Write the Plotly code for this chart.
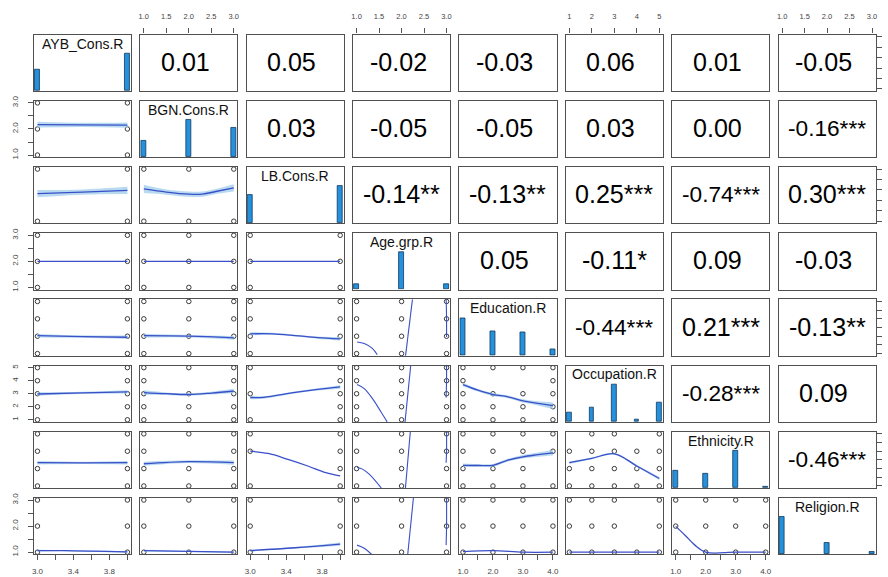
import plotly.graph_objects as go

# ---------------- data ----------------
var_names = ["AYB_Cons.R", "BGN.Cons.R", "LB.Cons.R", "Age.grp.R",
             "Education.R", "Occupation.R", "Ethnicity.R", "Religion.R"]
var_levels = [[3, 4], [1, 2, 3], [3, 4], [1, 2, 3],
              [1, 2, 3, 4], [1, 2, 3, 4, 5], [1, 2, 3, 4], [1, 2, 3]]
# histogram bar heights relative to the tallest bar of each variable
hist_rel = [[0.57, 1.0], [0.43, 1.0, 0.78], [0.76, 1.0], [0.14, 1.0, 0.14],
            [1.0, 0.65, 0.61, 0.18], [0.24, 0.37, 1.0, 0.06, 0.52],
            [0.45, 0.38, 1.0, 0.03], [1.0, 0.29, 0.05]]

# upper triangle correlations (row i, columns i+1..7)
r_upper = [[0.01, 0.05, -0.02, -0.03, 0.06, 0.01, -0.05],
           [0.03, -0.05, -0.05, 0.03, 0.00, -0.16],
           [-0.14, -0.13, 0.25, -0.74, 0.30],
           [0.05, -0.11, 0.09, -0.03],
           [-0.44, 0.21, -0.13],
           [-0.28, 0.09],
           [-0.46]]
stars_upper = [["", "", "", "", "", "", ""],
               ["", "", "", "", "", "***"],
               ["**", "**", "***", "***", "***"],
               ["", "*", "", ""],
               ["***", "***", "**"],
               ["***", ""],
               ["***"]]

# tick values / labels per variable
tick_vals = [[3.0, 3.2, 3.4, 3.6, 3.8, 4.0], [1.0, 1.5, 2.0, 2.5, 3.0],
             [3.0, 3.2, 3.4, 3.6, 3.8, 4.0], [1.0, 1.5, 2.0, 2.5, 3.0],
             [1.0, 1.5, 2.0, 2.5, 3.0, 3.5, 4.0], [1, 2, 3, 4, 5],
             [1.0, 1.5, 2.0, 2.5, 3.0, 3.5, 4.0], [1.0, 1.5, 2.0, 2.5, 3.0]]
top_labels = {1: ["1.0", "1.5", "2.0", "2.5", "3.0"], 3: ["1.0", "1.5", "2.0", "2.5", "3.0"],
              5: ["1", "2", "3", "4", "5"], 7: ["1.0", "1.5", "2.0", "2.5", "3.0"]}
bottom_labels = {0: ["3.0", "", "3.4", "", "3.8", ""], 2: ["3.0", "", "3.4", "", "3.8", ""],
                 4: ["1.0", "", "2.0", "", "3.0", "", "4.0"], 6: ["1.0", "", "2.0", "", "3.0", "", "4.0"]}
left_labels = {1: ["1.0", "", "2.0", "", "3.0"], 3: ["1.0", "", "2.0", "", "3.0"],
               5: ["1", "2", "3", "4", "5"], 7: ["1.0", "", "2.0", "", "3.0"]}

# value combinations that do not occur in lower panels: (row, col) -> [(x, y)]
absent_points = {(5, 1): [(2, 4)], (5, 2): [(3, 4), (3, 2)], (5, 4): [(2, 4), (3, 4)],
                 (6, 1): [(2, 3)], (6, 2): [(3, 2)], (6, 4): [(4, 2)],
                 (6, 5): [(1, 4), (4, 4)], (7, 5): [(4, 3), (4, 2)]}

# loess fits: (row, col) -> (x, y, ci half width or None)
smooth_fits = {
    (1, 0): ([3, 3.5, 4], [2.17, 2.16, 2.15], [0.11, 0.08, 0.1]),
    (2, 0): ([3, 3.5, 4], [3.53, 3.56, 3.59], [0.07, 0.05, 0.07]),
    (2, 1): ([1, 1.5, 2, 2.3, 2.6, 3], [3.62, 3.56, 3.52, 3.52, 3.57, 3.64], [0.08, 0.05, 0.05, 0.05, 0.05, 0.07]),
    (3, 0): ([3, 4], [2.0, 2.0], None),
    (3, 1): ([1, 2, 3], [2.0, 2.0, 2.0], None),
    (3, 2): ([3, 4], [2.0, 2.0], None),
    (4, 0): ([3, 3.5, 4], [2.03, 1.98, 1.94], [0.1, 0.07, 0.1]),
    (4, 1): ([1, 2, 3], [2.03, 2.0, 1.91], [0.11, 0.07, 0.11]),
    (4, 2): ([3, 3.25, 3.5, 3.75, 4], [2.14, 2.14, 2.04, 1.92, 1.85], [0.09, 0.06, 0.05, 0.06, 0.1]),
    (5, 0): ([3, 3.5, 4], [2.98, 3.06, 3.14], [0.13, 0.09, 0.13]),
    (5, 1): ([1, 1.5, 2, 2.5, 3], [3.09, 3.0, 2.94, 3.05, 3.21], [0.17, 0.1, 0.09, 0.1, 0.17]),
    (5, 2): ([3, 3.15, 3.5, 3.75, 4], [2.71, 2.72, 3.1, 3.33, 3.52], [0.13, 0.1, 0.08, 0.09, 0.13]),
    (5, 4): ([1, 1.5, 2, 2.5, 3, 3.5, 4], [3.70, 3.27, 2.94, 2.76, 2.45, 2.26, 2.08],
             [0.14, 0.1, 0.12, 0.1, 0.12, 0.16, 0.25]),
    (6, 0): ([3, 3.5, 4], [2.34, 2.33, 2.34], [0.1, 0.07, 0.1]),
    (6, 1): ([1, 2, 3], [2.28, 2.40, 2.34], [0.12, 0.08, 0.12]),
    (6, 2): ([3, 3.2, 3.42, 3.64, 3.84, 4], [3.0, 2.87, 2.53, 2.15, 1.77, 1.58], None),
    (6, 4): ([1, 1.5, 2, 2.5, 3, 3.5, 4], [2.19, 2.18, 2.19, 2.49, 2.68, 2.80, 2.91],
             [0.1, 0.08, 0.08, 0.08, 0.1, 0.12, 0.16]),
    (6, 5): ([1, 2, 3, 4, 5], [2.34, 2.59, 2.85, 2.15, 1.43], [0.07, 0.05, 0.05, 0.06, 0.09]),
    (7, 0): ([3, 3.3, 4], [1.06, 1.06, 1.01], [0.03, 0.02, 0.03]),
    (7, 1): ([1, 2, 3], [1.06, 1.03, 1.0], [0.03, 0.02, 0.03]),
    (7, 2): ([3, 3.5, 4], [1.06, 1.17, 1.31], [0.03, 0.03, 0.06]),
    (7, 4): ([1, 2, 3, 4], [1.02, 1.06, 1.0, 1.0], None),
    (7, 5): ([1, 5], [1.0, 1.0], None),
    (7, 6): ([1, 1.31, 1.64, 2, 3, 4], [1.99, 1.65, 1.27, 1.0, 1.0, 1.0], None),
}
# unstable loess pieces in the Age.grp.R column: (row, col) -> [(x, y), ...]
smooth_segments = {
    (4, 3): [([1.01, 1.17, 1.35, 1.46], [1.67, 1.58, 1.30, 0.93]),
             ([2.08, 2.25], [0.7, 4.3]), ([2.99, 3.0, 3.0], [4.3, 3.0, 1.95])],
    (5, 3): [([1.01, 1.17, 1.35, 1.54, 1.68], [3.70, 3.39, 2.64, 1.62, 0.84]),
             ([2.07, 2.21], [0.6, 5.4]), ([3.0, 3.0, 2.99], [5.4, 4.0, 2.7])],
    (6, 3): [([1.01, 1.13, 1.28, 1.55], [2.06, 1.97, 1.68, 0.88]),
             ([2.08, 2.2], [0.7, 4.3]), ([3.0, 3.0, 2.99], [4.3, 3.0, 2.34])],
    (7, 3): [([1.01, 1.17, 1.33], [1.27, 1.15, 0.92]),
             ([2.13, 2.27], [0.8, 3.2]), ([3.0, 3.0, 2.99], [3.2, 2.0, 1.27])],
}

# ---------------- layout geometry ----------------
W, H = 888, 577
N = 8
COL_L0, COL_STEP, PANEL_W = 32, 106.86, 97.6
ROW_T0, ROW_STEP, PANEL_H = 30, 67, 57

FRAME = "#505050"
TICKC = "#555555"
LABC = "#444444"
FONT = "Liberation Sans, Arial, sans-serif"
HIST_COL = "#2590DC"
LINE_COL = "#3A4FC8"
BAND_COL = "rgba(160,205,235,0.75)"

CHAR_W = {"0": .556, "1": .556, "2": .556, "3": .556, "4": .556, "5": .556, "6": .556,
          "7": .556, "8": .556, "9": .556, ".": .278, "-": .333, "*": .389, "\u00a0": .278}


def em_width(s):
    return sum(CHAR_W.get(c, .556) for c in s)


def dom_x(j):
    l = COL_L0 + j * COL_STEP
    return [l / W, (l + PANEL_W) / W]


def dom_y(i):
    t = ROW_T0 + i * ROW_STEP
    return [1 - (t + PANEL_H) / H, 1 - t / H]


def rng(v):
    a, b = min(var_levels[v]), max(var_levels[v])
    d = (b - a) * 0.04
    return [a - d, b + d]


fig = go.Figure()
layout = {}
annotations = []

for i in range(N):
    for j in range(N):
        k = i * N + j + 1
        xs = "" if k == 1 else str(k)
        xa, ya = "x" + xs, "y" + xs
        xax = dict(domain=dom_x(j), range=rng(j), anchor=ya, showgrid=False, zeroline=False,
                   showline=True, mirror=True, linecolor=FRAME, linewidth=1.4,
                   ticks="", showticklabels=False, fixedrange=True)
        yax = dict(domain=dom_y(i), range=rng(i) if i != j else [0, 1.5], anchor=xa,
                   showgrid=False, zeroline=False, showline=True, mirror=True,
                   linecolor=FRAME, linewidth=1.4, ticks="", showticklabels=False,
                   fixedrange=True)
        tick_common = dict(ticks="outside", ticklen=5, tickwidth=1, tickcolor=TICKC,
                           tickfont=dict(family=FONT, size=7.5, color=LABC))
        if i == 0 and j % 2 == 1:
            xax.update(tick_common, side="top", tickmode="array", tickvals=tick_vals[j],
                       ticktext=top_labels[j], showticklabels=True, ticklabelstandoff=6)
        if i == N - 1 and j % 2 == 0:
            xax.update(tick_common, side="bottom", tickmode="array", tickvals=tick_vals[j],
                       ticktext=bottom_labels[j], showticklabels=True, ticklabelstandoff=4)
            xax["tickfont"] = dict(family=FONT, size=8, color=LABC)
        if j == 0 and i % 2 == 1:
            yax.update(tick_common, side="left", tickmode="array", tickvals=tick_vals[i],
                       ticktext=left_labels[i], showticklabels=True, tickangle=-90,
                       ticklabelstandoff=6)
            yax["tickfont"] = dict(family=FONT, size=8, color=LABC)
        if j == N - 1 and i % 2 == 0:
            yax.update(tick_common, side="right", tickmode="array", tickvals=tick_vals[i],
                       showticklabels=False)
        layout["xaxis" + xs] = xax
        layout["yaxis" + xs] = yax

        if i == j:
            lv = var_levels[i]
            half = min(b - a for a, b in zip(lv[:-1], lv[1:])) * (len(lv) - 1) / 41
            fig.add_trace(go.Bar(x=lv, y=hist_rel[i], width=[2 * half] * len(lv),
                                 marker=dict(color=HIST_COL, line=dict(color="#123a5e", width=0.8)),
                                 xaxis=xa, yaxis=ya, showlegend=False, hoverinfo="skip"))
            annotations.append(dict(text=var_names[i], xref=xa + " domain", yref=ya + " domain",
                                    x=0.5, y=1 - 9 / PANEL_H, xanchor="center", yanchor="middle",
                                    showarrow=False, font=dict(family=FONT, size=14, color="#111111")))
        elif i > j:
            absent = absent_points.get((i, j), [])
            px, py = [], []
            for xv in var_levels[j]:
                for yv in var_levels[i]:
                    if (xv, yv) not in absent:
                        px.append(xv)
                        py.append(yv)
            fig.add_trace(go.Scatter(x=px, y=py, mode="markers", xaxis=xa, yaxis=ya,
                                     marker=dict(symbol="circle-open", size=4.5, color="#3a3a3a",
                                                 line=dict(width=1, color="#3a3a3a")),
                                     showlegend=False, hoverinfo="skip", cliponaxis=False))
            if (i, j) in smooth_fits:
                sx, sy, ci = smooth_fits[(i, j)]
                if ci is not None:
                    lo = [a - c for a, c in zip(sy, ci)]
                    hi = [a + c for a, c in zip(sy, ci)]
                    fig.add_trace(go.Scatter(x=sx, y=lo, mode="lines", line=dict(width=0, shape="spline"),
                                             xaxis=xa, yaxis=ya, showlegend=False, hoverinfo="skip"))
                    fig.add_trace(go.Scatter(x=sx, y=hi, mode="lines", line=dict(width=0, shape="spline"),
                                             fill="tonexty", fillcolor=BAND_COL,
                                             xaxis=xa, yaxis=ya, showlegend=False, hoverinfo="skip"))
                fig.add_trace(go.Scatter(x=sx, y=sy, mode="lines",
                                         line=dict(color=LINE_COL, width=1.3, shape="spline"),
                                         xaxis=xa, yaxis=ya, showlegend=False, hoverinfo="skip"))
            for segx, segy in smooth_segments.get((i, j), []):
                fig.add_trace(go.Scatter(x=segx, y=segy, mode="lines",
                                         line=dict(color=LINE_COL, width=1.1, shape="spline"),
                                         xaxis=xa, yaxis=ya, showlegend=False, hoverinfo="skip"))
        else:
            # invisible anchor trace so the empty panel (frame and ticks) is drawn
            fig.add_trace(go.Scatter(x=[sum(rng(j)) / 2], y=[sum(rng(i)) / 2], mode="markers",
                                     marker=dict(opacity=0, size=1), xaxis=xa, yaxis=ya,
                                     showlegend=False, hoverinfo="skip"))
            r = r_upper[i][j - i - 1]
            st = stars_upper[i][j - i - 1]
            txt = f"{r:.2f}" + (st if st else "\u00a0")
            size = 0.8 * PANEL_W / max(em_width("0.12***"), em_width(txt))
            annotations.append(dict(text=txt, xref=xa + " domain", yref=ya + " domain",
                                    x=0.5, y=0.5, xanchor="center", yanchor="middle", yshift=1,
                                    showarrow=False, font=dict(family=FONT, size=size, color="#000000")))

fig.update_layout(**layout)
fig.update_layout(width=W, height=H, margin=dict(l=0, r=0, t=0, b=0),
                  paper_bgcolor="white", plot_bgcolor="white", showlegend=False,
                  annotations=annotations, bargap=0)
fig.write_html("out.html")
